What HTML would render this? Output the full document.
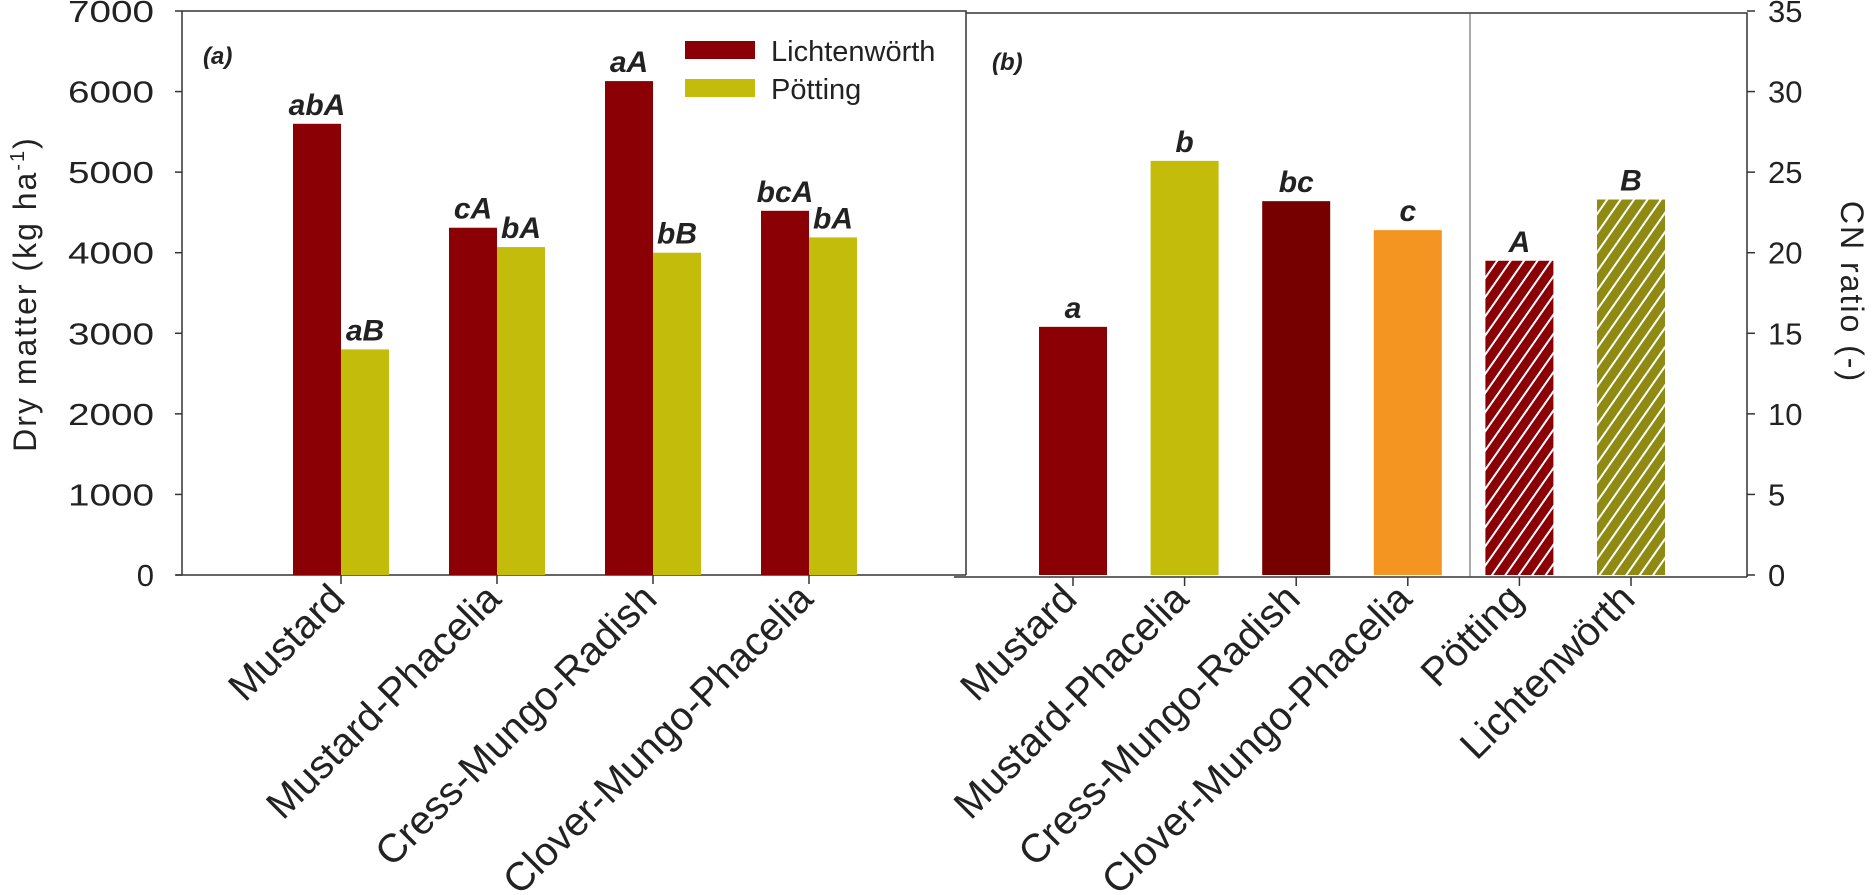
<!DOCTYPE html>
<html><head><meta charset="utf-8"><style>
html,body{margin:0;padding:0;background:#fff;}
svg{display:block;font-family:"Liberation Sans",Arial,sans-serif;}
</style></head><body>
<svg id="chart" width="1874" height="895" viewBox="0 0 1874 895">
<defs>
<pattern id="hatchRed" patternUnits="userSpaceOnUse" width="11" height="11" patternTransform="rotate(35)">
<rect width="11" height="11" fill="#8b0004"/><rect x="0" y="0" width="2" height="11" fill="#fff"/>
</pattern>
<pattern id="hatchOlive" patternUnits="userSpaceOnUse" width="11" height="11" patternTransform="rotate(35)">
<rect width="11" height="11" fill="#8e8a12"/><rect x="0" y="0" width="2" height="11" fill="#fff"/>
</pattern>
</defs>
<g id="root"></g>
</svg>
<script>
const catsA = ["Mustard","Mustard-Phacelia","Cress-Mungo-Radish","Clover-Mungo-Phacelia"];
const lichValues = [5600,4310,6130,4520];
const pottValues = [2800,4070,4000,4190];
const lichLetters = ["abA","cA","aA","bcA"];
const pottLetters = ["aB","bA","bB","bA"];
const yTicksA = [0,1000,2000,3000,4000,5000,6000,7000];

const catsB = ["Mustard","Mustard-Phacelia","Cress-Mungo-Radish","Clover-Mungo-Phacelia","Pötting","Lichtenwörth"];
const cnValues = [15.4,25.7,23.2,21.4,19.5,23.3];
const cnLetters = ["a","b","bc","c","A","B"];
const yTicksB = [0,5,10,15,20,25,30,35];

const NS="http://www.w3.org/2000/svg";
const root=document.getElementById('root');
function mk(tag,attrs,parent){const e=document.createElementNS(NS,tag);for(const k in attrs)e.setAttribute(k,attrs[k]);(parent||root).appendChild(e);return e;}
const y0=575, yTop=11;
const yA=v=>y0-(v/7000)*(y0-yTop);
const yB=v=>y0-(v/35)*(y0-yTop);
const xA=i=>341+i*156;
const xB=i=>1073+i*111.6;

let e;
e=mk('path',{d:'M182 11 H966 V575',fill:'none',stroke:'#333','stroke-width':1.5});


e=mk('line',{x1:182,y1:11,x2:182,y2:575,stroke:'#333','stroke-width':1.5});


e=mk('line',{x1:176,y1:575,x2:966,y2:575,stroke:'#333','stroke-width':1.5});


e=mk('path',{d:'M966 13 H1747 V577',fill:'none',stroke:'#333','stroke-width':1.5});


e=mk('line',{x1:954,y1:577,x2:1747,y2:577,stroke:'#333','stroke-width':1.5});


e=mk('line',{x1:1470,y1:13,x2:1470,y2:577,stroke:'#555','stroke-width':1});



yTicksA.forEach(t=>{
 e=mk('line',{x1:175,y1:yA(t),x2:182,y2:yA(t),stroke:'#333','stroke-width':1.5});
 
 
 e=mk('text',{x:154,y:yA(t)+11,'text-anchor':'end','font-size':31,fill:'#222'});
 if(t!==0){e.setAttribute('textLength',86);e.setAttribute('lengthAdjust','spacingAndGlyphs');}
 e.textContent=t;
 
 
});
yTicksB.forEach(t=>{
 e=mk('line',{x1:1747,y1:yB(t),x2:1755,y2:yB(t),stroke:'#333','stroke-width':1.5});
 
 
 e=mk('text',{x:1768,y:yB(t)+11,'text-anchor':'start','font-size':31,fill:'#222'});
 e.textContent=t;
 
 
});

e=mk('text',{x:0,y:0,transform:'translate(36,294) rotate(-90)','text-anchor':'middle','font-size':32,'letter-spacing':2,fill:'#222'});
e.innerHTML='Dry matter (kg ha<tspan dy="-12" font-size="20">-1</tspan><tspan dy="12">)</tspan>';


e=mk('text',{x:0,y:0,transform:'translate(1841,292) rotate(90)','text-anchor':'middle','font-size':32,'letter-spacing':2,fill:'#222'});
e.textContent='CN ratio (-)';



e=mk('text',{x:203,y:64,'font-size':24,'font-weight':'bold','font-style':'italic',fill:'#222'});
e.textContent='(a)';


e=mk('text',{x:992,y:70,'font-size':24,'font-weight':'bold','font-style':'italic',fill:'#222'});
e.textContent='(b)';



e=mk('rect',{x:685,y:41,width:70,height:18,fill:'#8b0004'});


e=mk('text',{x:771,y:61,'font-size':29,fill:'#222'});e.textContent='Lichtenwörth';


e=mk('rect',{x:685,y:79,width:70,height:18,fill:'#c4bc0a'});


e=mk('text',{x:771,y:99,'font-size':29,fill:'#222'});e.textContent='Pötting';



const bw=48;
function letter(x,y,txt){
 const t=mk('text',{x:x,y:y-9,'text-anchor':'middle','font-size':30,'font-weight':'bold','font-style':'italic',fill:'#222'});
 t.textContent=txt;
 
 
}
function xtick(x,yy){
 const t=mk('line',{x1:x,y1:yy,x2:x,y2:yy+9,stroke:'#333','stroke-width':1.5});
 
 
}
function xlabel(x,txt){
 const t=mk('text',{x:0,y:0,transform:`translate(${x+6},${y0+26}) rotate(-45)`,'text-anchor':'end','font-size':40,fill:'#222'});
 t.textContent=txt;
 
 
}
catsA.forEach((c,i)=>{
 const cx=xA(i);
 let r=mk('rect',{x:cx-bw,y:yA(lichValues[i]),width:bw,height:y0-yA(lichValues[i]),fill:'#8b0004'});
 
 
 r=mk('rect',{x:cx,y:yA(pottValues[i]),width:bw,height:y0-yA(pottValues[i]),fill:'#c4bc0a'});
 
 
 letter(cx-bw/2,yA(lichValues[i]),lichLetters[i]);
 letter(cx+bw/2,yA(pottValues[i]),pottLetters[i]);
 xtick(cx,575);
 xlabel(cx,c);
});
const fillsB=['#8b0004','#c4bc0a','#760000','#f39520','url(#hatchRed)','url(#hatchOlive)'];
catsB.forEach((c,i)=>{
 const cx=xB(i), w=68;
 const r=mk('rect',{x:cx-w/2,y:yB(cnValues[i]),width:w,height:y0-yB(cnValues[i]),fill:fillsB[i]});
 
 
 letter(cx,yB(cnValues[i]),cnLetters[i]);
 xtick(cx,577);
 xlabel(cx,c);
});
</script>
</body></html>
